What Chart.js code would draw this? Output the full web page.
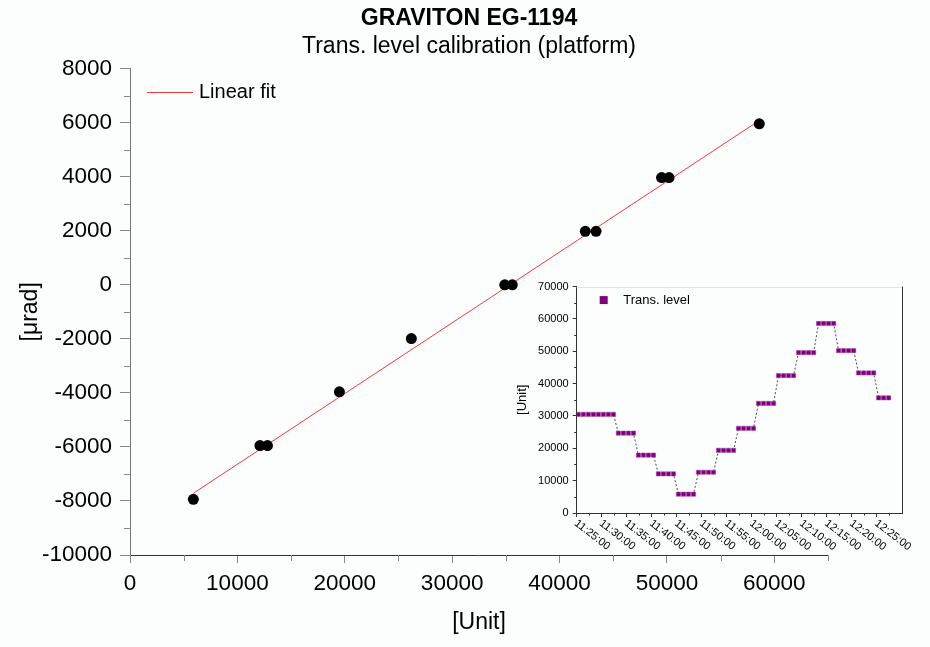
<!DOCTYPE html>
<html><head><meta charset="utf-8">
<script src="https://cdn.jsdelivr.net/npm/chart.js@4.4.1/dist/chart.umd.min.js"></script>
<style>
html,body{margin:0;padding:0;background:#fcfdfd;}
#wrap{position:relative;width:930px;height:647px;overflow:hidden;}
#main{position:absolute;left:0;top:0;}
#inset{position:absolute;left:500px;top:276px;}
</style></head><body>
<div id="wrap">
<canvas id="main" width="930" height="647"></canvas>
<canvas id="inset" width="430" height="276"></canvas>
</div>
<script>
const titleText = 'GRAVITON EG-1194';
const subtitleText = 'Trans. level calibration (platform)';

// Main chart: calibration points
const calibUnits = [5900, 12100, 12800, 19500, 26200, 34900, 35600, 42400, 43400, 49500, 50200, 58600];
const calibUrad  = [-7940, -5950, -5950, -3960, -1990, 0, 0, 1980, 1980, 3970, 3970, 5960];
// Linear fit line endpoints
const fitUnits = [5900, 58600];
const fitUrad  = [-7716, 6080];
const mainXTicks = [0, 10000, 20000, 30000, 40000, 50000, 60000];
const mainYTicks = [-10000, -8000, -6000, -4000, -2000, 0, 2000, 4000, 6000, 8000];

// Inset: trans. level vs time
const insetTimes = [
 '11:25:20','11:26:20','11:27:20','11:28:20','11:29:20','11:30:20','11:31:20','11:32:20',
 '11:33:20','11:34:20','11:35:20','11:36:20',
 '11:37:20','11:38:20','11:39:20','11:40:20',
 '11:41:20','11:42:20','11:43:20','11:44:20',
 '11:45:20','11:46:20','11:47:20','11:48:20',
 '11:49:20','11:50:20','11:51:20','11:52:20',
 '11:53:20','11:54:20','11:55:20','11:56:20',
 '11:57:20','11:58:20','11:59:20','12:00:20',
 '12:01:20','12:02:20','12:03:20','12:04:20',
 '12:05:20','12:06:20','12:07:20','12:08:20',
 '12:09:20','12:10:20','12:11:20','12:12:20',
 '12:13:20','12:14:20','12:15:20','12:16:20',
 '12:17:20','12:18:20','12:19:20','12:20:20',
 '12:21:20','12:22:20','12:23:20','12:24:20',
 '12:25:20','12:26:20','12:27:20'];
const insetLevel = [
 30500,30500,30500,30500,30500,30500,30500,30500,
 24700,24700,24700,24700,
 17900,17900,17900,17900,
 12100,12100,12100,12100,
 5800,5800,5800,5800,
 12600,12600,12600,12600,
 19400,19400,19400,19400,
 26200,26200,26200,26200,
 33900,33900,33900,33900,
 42500,42500,42500,42500,
 49600,49600,49600,49600,
 58600,58600,58600,58600,
 50200,50200,50200,50200,
 43300,43300,43300,43300,
 35600,35600,35600];
const insetXTickLabels = ['11:25:00','11:30:00','11:35:00','11:40:00','11:45:00','11:50:00','11:55:00','12:00:00','12:05:00','12:10:00','12:15:00','12:20:00','12:25:00'];
const insetYTicks = [0, 10000, 20000, 30000, 40000, 50000, 60000, 70000];

const FONT = "'Liberation Sans', Arial, sans-serif";
const FIT_COLOR = '#f03a3a';
const T0 = 11*60 + 25;
function toMin(s){ const p = s.split(':').map(Number); return p[0]*60 + p[1] + p[2]/60 - T0; }
function mids(arr){ const r=[]; for(let i=0;i<arr.length-1;i++) r.push((arr[i]+arr[i+1])/2); return r; }

const minorTicksPlugin = {
  id:'minorTicks',
  afterDraw(chart, args, o){
    const ctx = chart.ctx; ctx.save();
    ctx.strokeStyle = o.color; ctx.lineWidth = 1;
    const sx = chart.scales.x, sy = chart.scales.y;
    (o.y||[]).forEach(v=>{ const p=Math.round(sy.getPixelForValue(v))+0.5; ctx.beginPath(); ctx.moveTo(sy.right-o.len, p); ctx.lineTo(sy.right, p); ctx.stroke(); });
    (o.x||[]).forEach(v=>{ const p=Math.round(sx.getPixelForValue(v))+0.5; ctx.beginPath(); ctx.moveTo(p, sx.top); ctx.lineTo(p, sx.top+o.len); ctx.stroke(); });
    ctx.restore();
  }
};

const mainLegendPlugin = {
  id:'mainLegend',
  afterDraw(chart){
    const ctx = chart.ctx, a = chart.chartArea; ctx.save();
    const y = Math.round(a.top + 23) + 0.5;
    ctx.setLineDash([]);
    ctx.strokeStyle = FIT_COLOR; ctx.lineWidth = 1;
    ctx.beginPath(); ctx.moveTo(Math.round(a.left+17), y); ctx.lineTo(Math.round(a.left+63), y); ctx.stroke();
    ctx.fillStyle = '#000'; ctx.font = '20px ' + FONT; ctx.textBaseline = 'middle'; ctx.textAlign = 'left';
    ctx.fillText(chart.data.datasets[1].label, a.left+69, y);
    ctx.restore();
  }
};

new Chart(document.getElementById('main'), {
  type:'scatter',
  data:{datasets:[
    {label:'Calibration', data: calibUnits.map((x,i)=>({x:x, y:calibUrad[i]})), showLine:false,
     pointRadius:5.5, pointBackgroundColor:'#000', pointBorderColor:'#000', pointBorderWidth:0, order:0},
    {label:'Linear fit', data: fitUnits.map((x,i)=>({x:x, y:fitUrad[i]})), showLine:true,
     borderColor:FIT_COLOR, borderWidth:1, pointRadius:0, order:1}
  ]},
  options:{
    responsive:false, animation:false, devicePixelRatio:1,
    layout:{padding:{left:8,right:0,top:0,bottom:0}},
    plugins:{
      legend:{display:false}, tooltip:{enabled:false},
      title:{display:true, text:titleText, color:'#000', font:{family:FONT,size:23,weight:'bold'}, padding:{top:5,bottom:0}},
      subtitle:{display:true, text:subtitleText, color:'#000', font:{family:FONT,size:23}, padding:{top:0,bottom:8.5}},
      minorTicks:{color:'#888', len:6, x: mids(mainXTicks).concat([65000]), y: mids(mainYTicks)}
    },
    scales:{
      x:{type:'linear', min:0, max:65000,
         afterBuildTicks:s=>{ s.ticks = mainXTicks.map(v=>({value:v})); },
         afterFit:s=>{ s.height = 92; },
         ticks:{color:'#000', font:{family:FONT,size:22.5}, padding:7, maxRotation:0, autoSkip:false, callback:v=>String(v)},
         grid:{drawOnChartArea:false, drawTicks:true, tickLength:8, tickColor:'#888'},
         border:{display:true, color:'#333', width:1},
         title:{display:true, text:'[Unit]', color:'#000', font:{family:FONT,size:23}, padding:{top:0,bottom:11}}},
      y:{type:'linear', min:-10000, max:8000,
         afterBuildTicks:s=>{ s.ticks = mainYTicks.map(v=>({value:v})); },
         afterFit:s=>{ s.width = 122; },
         ticks:{color:'#000', font:{family:FONT,size:22.5}, padding:8, autoSkip:false, callback:v=>String(v)},
         grid:{drawOnChartArea:false, drawTicks:true, tickLength:10, tickColor:'#888'},
         border:{display:true, color:'#777', width:1},
         title:{display:true, text:'[μrad]', color:'#000', font:{family:FONT,size:23}, padding:{top:9,bottom:0}}},
      // empty right-hand spacer axis (reserves the margin to the right of the plot)
      yRight:{type:'linear', position:'right', min:-10000, max:8000, display:true,
         afterFit:s=>{ s.width = 102; },
         ticks:{display:false}, grid:{display:false, drawTicks:false}, border:{display:false}}
    }
  },
  plugins:[minorTicksPlugin, mainLegendPlugin]
});

const insetDecorPlugin = {
  id:'insetDecor',
  afterDraw(chart){
    const ctx = chart.ctx, a = chart.chartArea, sx = chart.scales.x; ctx.save();
    ctx.setLineDash([]);
    ctx.lineWidth = 1;
    ctx.strokeStyle = '#e2e2e2'; ctx.beginPath(); ctx.moveTo(a.left, Math.round(a.top)+0.5); ctx.lineTo(a.right, Math.round(a.top)+0.5); ctx.stroke();
    ctx.strokeStyle = '#333'; ctx.beginPath(); ctx.moveTo(Math.round(a.right)+0.5, a.top); ctx.lineTo(Math.round(a.right)+0.5, a.bottom); ctx.stroke();
    ctx.fillStyle = '#000'; ctx.font = '11px ' + FONT; ctx.textAlign = 'left'; ctx.textBaseline = 'middle';
    insetXTickLabels.forEach(l=>{
      const px = sx.getPixelForValue(toMin(l));
      ctx.save(); ctx.translate(px-1, sx.top+9); ctx.rotate(38*Math.PI/180); ctx.fillText(l, 0, 0); ctx.restore();
    });
    const ds = chart.data.datasets[0];
    ctx.fillStyle = ds.pointBackgroundColor; ctx.fillRect(a.left+23, a.top+9.5, 8, 8);
    ctx.fillStyle = '#000'; ctx.font = '13px ' + FONT; ctx.textBaseline = 'middle';
    ctx.fillText(ds.label, a.left+46.5, a.top+13.5);
    ctx.restore();
  }
};

new Chart(document.getElementById('inset'), {
  type:'scatter',
  data:{datasets:[{label:'Trans. level',
    data: insetTimes.map((t,i)=>({x:toMin(t), y:insetLevel[i]})),
    showLine:true, borderColor:'#222', borderWidth:0.8, borderDash:[2,2],
    pointStyle:'rect', pointRadius:3, pointBackgroundColor:'#800080', pointBorderColor:'#a040a0', pointBorderWidth:0.5}]},
  options:{
    responsive:false, animation:false, devicePixelRatio:1,
    layout:{padding:{left:0,right:28,top:10,bottom:0}},
    plugins:{legend:{display:false}, tooltip:{enabled:false},
      minorTicks:{color:'#333', len:2.5, x: mids(insetXTickLabels.map(toMin)).concat([62.5]), y: mids(insetYTicks)}},
    scales:{
      x:{type:'linear', min:0, max:65,
         afterBuildTicks:s=>{ s.ticks = insetXTickLabels.map(l=>({value:toMin(l)})); },
         afterFit:s=>{ s.height = 39; },
         ticks:{display:false},
         grid:{drawOnChartArea:false, drawTicks:true, tickLength:4, tickColor:'#333'},
         border:{display:true, color:'#333', width:1}},
      y:{type:'linear', min:0, max:70000,
         afterBuildTicks:s=>{ s.ticks = insetYTicks.map(v=>({value:v})); },
         afterFit:s=>{ s.width = 76.7; },
         ticks:{color:'#000', font:{family:FONT,size:11}, padding:4, autoSkip:false, callback:v=>String(v)},
         grid:{drawOnChartArea:false, drawTicks:true, tickLength:4, tickColor:'#333'},
         border:{display:true, color:'#333', width:1},
         title:{display:true, text:'[Unit]', color:'#000', font:{family:FONT,size:13}, padding:{top:15,bottom:0}}}
    }
  },
  plugins:[minorTicksPlugin, insetDecorPlugin]
});
</script>
</body></html>
